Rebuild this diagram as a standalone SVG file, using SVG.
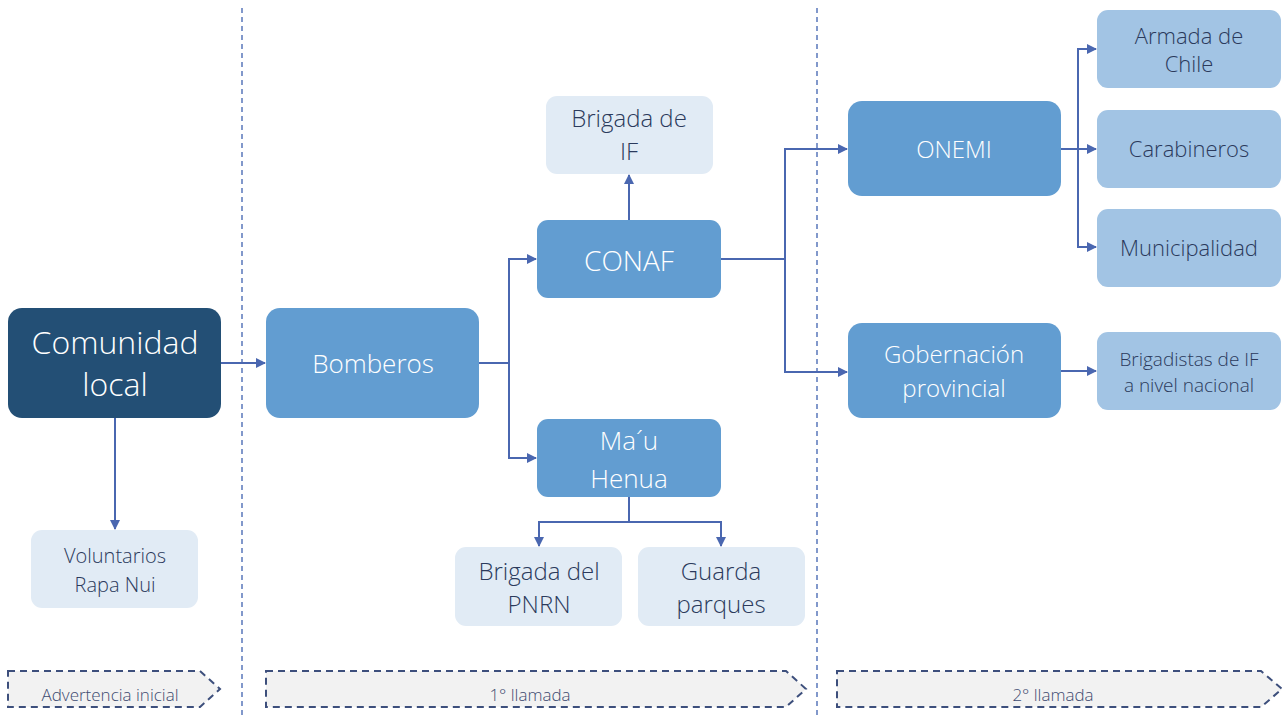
<svg xmlns="http://www.w3.org/2000/svg" width="1285" height="722" viewBox="0 0 1285 722">
<defs>
<marker id="ah" viewBox="0 0 10 10" refX="9" refY="5" markerWidth="10" markerHeight="10" markerUnits="userSpaceOnUse" orient="auto">
<path d="M0,0 L10,5 L0,10 Z" fill="#4a67b0"/>
</marker>
<style>
.t{font-family:"Open Sans","Liberation Sans",sans-serif;font-weight:300;text-anchor:middle}
.w{fill:#ffffff}
.d{fill:#2b3a5c}
.dark{fill:#234f75}
.mid{fill:#629dd1}
.pale{fill:#e1ebf5}
.lt{fill:#a2c4e4}
.c{fill:none;stroke:#4a67b0;stroke-width:2}
.sep{stroke:#3f62b0;stroke-width:1.3;stroke-dasharray:5,4}
.ban{fill:#f2f2f2;stroke:#3d4f7c;stroke-width:2;stroke-dasharray:7,5}
.bt{fill:#3d4a70}
</style>
</defs>
<rect width="1285" height="722" fill="#ffffff"/>
<g id="separators">
<line class="sep" x1="242" y1="8" x2="242" y2="718"/>
<line class="sep" x1="817" y1="8" x2="817" y2="718"/>
</g>
<g id="connectors">
<path class="c" d="M221,363 H265" marker-end="url(#ah)"/>
<path class="c" d="M115,418 V529" marker-end="url(#ah)"/>
<path class="c" d="M479,363 H509"/>
<path class="c" d="M509,458 V259 H536" marker-end="url(#ah)"/>
<path class="c" d="M509,363 V458 H536" marker-end="url(#ah)"/>
<path class="c" d="M629,220 V175" marker-end="url(#ah)"/>
<path class="c" d="M629,497 V522 H539 V546" marker-end="url(#ah)"/>
<path class="c" d="M629,522 H721 V546" marker-end="url(#ah)"/>
<path class="c" d="M721,259 H785"/>
<path class="c" d="M785,259 V149 H847" marker-end="url(#ah)"/>
<path class="c" d="M785,259 V372 H847" marker-end="url(#ah)"/>
<path class="c" d="M1061,149 H1096" marker-end="url(#ah)"/>
<path class="c" d="M1078,149 V49 H1096" marker-end="url(#ah)"/>
<path class="c" d="M1078,149 V247 H1096" marker-end="url(#ah)"/>
<path class="c" d="M1061,371 H1096" marker-end="url(#ah)"/>
</g>
<g id="comunidad">
<rect class="dark" x="8" y="308" width="213" height="110" rx="14"/>
<text class="t w" x="115" y="354" font-size="32">Comunidad</text>
<text class="t w" x="115" y="396" font-size="32">local</text>
</g>
<g id="voluntarios">
<rect class="pale" x="31" y="530" width="167" height="78" rx="11"/>
<text class="t d" x="115" y="563" font-size="20">Voluntarios</text>
<text class="t d" x="115" y="592" font-size="20">Rapa Nui</text>
</g>
<g id="bomberos">
<rect class="mid" x="266" y="308" width="213" height="110" rx="14"/>
<text class="t w" x="373" y="373" font-size="26">Bomberos</text>
</g>
<g id="conaf">
<rect class="mid" x="537" y="220" width="184" height="78" rx="11"/>
<text class="t w" x="629" y="271" font-size="28">CONAF</text>
</g>
<g id="brigada-if">
<rect class="pale" x="546" y="96" width="167" height="78" rx="11"/>
<text class="t d" x="629" y="127" font-size="24">Brigada de</text>
<text class="t d" x="629" y="160" font-size="24">IF</text>
</g>
<g id="mau-henua">
<rect class="mid" x="537" y="419" width="184" height="78" rx="11"/>
<text class="t w" x="629" y="450" font-size="26">Ma´u</text>
<text class="t w" x="629" y="488" font-size="26">Henua</text>
</g>
<g id="brigada-pnrn">
<rect class="pale" x="455" y="547" width="167" height="79" rx="11"/>
<text class="t d" x="539" y="580" font-size="24">Brigada del</text>
<text class="t d" x="539" y="613" font-size="24">PNRN</text>
</g>
<g id="guarda-parques">
<rect class="pale" x="638" y="547" width="167" height="79" rx="11"/>
<text class="t d" x="721" y="580" font-size="24">Guarda</text>
<text class="t d" x="721" y="613" font-size="24">parques</text>
</g>
<g id="onemi">
<rect class="mid" x="848" y="101" width="213" height="95" rx="14"/>
<text class="t w" x="954" y="158" font-size="24">ONEMI</text>
</g>
<g id="gobernacion">
<rect class="mid" x="848" y="323" width="213" height="95" rx="14"/>
<text class="t w" x="954" y="363" font-size="24">Gobernación</text>
<text class="t w" x="954" y="397" font-size="24">provincial</text>
</g>
<g id="armada">
<rect class="lt" x="1097" y="10" width="184" height="78" rx="11"/>
<text class="t d" x="1189" y="44" font-size="22">Armada de</text>
<text class="t d" x="1189" y="72" font-size="22">Chile</text>
</g>
<g id="carabineros">
<rect class="lt" x="1097" y="110" width="184" height="78" rx="11"/>
<text class="t d" x="1189" y="157" font-size="22">Carabineros</text>
</g>
<g id="municipalidad">
<rect class="lt" x="1097" y="209" width="184" height="78" rx="11"/>
<text class="t d" x="1189" y="256" font-size="22">Municipalidad</text>
</g>
<g id="brigadistas">
<rect class="lt" x="1097" y="332" width="184" height="78" rx="11"/>
<text class="t d" x="1189" y="366" font-size="19">Brigadistas de IF</text>
<text class="t d" x="1189" y="392" font-size="19">a nivel nacional</text>
</g>
<g id="banner-advertencia">
<path class="ban" d="M8,671 H200 L220,689 L200,707 H8 Z"/>
<text class="t bt" x="110" y="701" font-size="17">Advertencia inicial</text>
</g>
<g id="banner-1">
<path class="ban" d="M266,671 H786 L806,689 L786,707 H266 Z"/>
<text class="t bt" x="530" y="701" font-size="17">1° llamada</text>
</g>
<g id="banner-2">
<path class="ban" d="M837,671 H1261 L1282,689 L1261,707 H837 Z"/>
<text class="t bt" x="1053" y="701" font-size="17">2° llamada</text>
</g>
</svg>
